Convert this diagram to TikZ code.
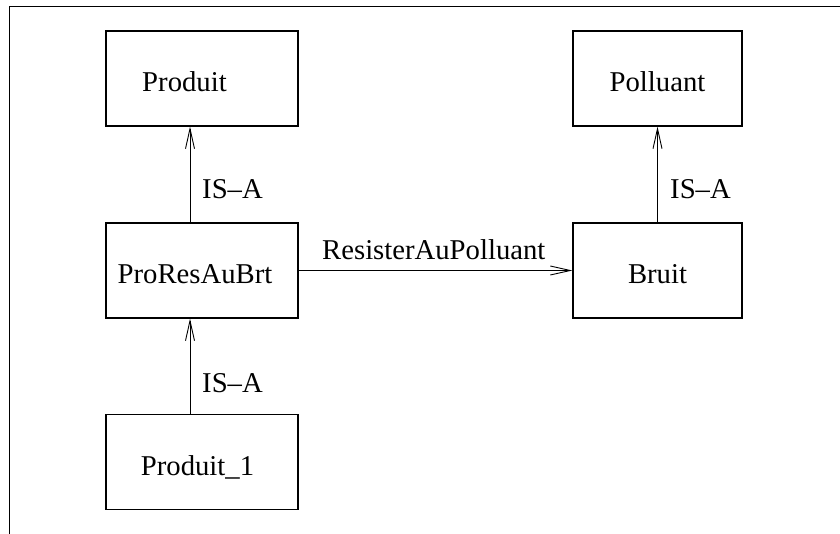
\documentclass[tikz,border=0pt]{standalone}
\usepackage{fontspec}
\setmainfont{Liberation Serif}
\usetikzlibrary{arrows.meta}
\begin{document}
\begin{tikzpicture}[x=1pt,y=-1pt,
  every node/.style={font=\fontsize{28.7}{34}\selectfont},
  classbox/.style={draw, line width=1.3pt, rectangle, minimum width=192pt,
    minimum height=95pt, inner sep=0pt},
  smallbox/.style={classbox, minimum width=169pt},
  boxtext/.style={inner sep=0pt, text height=26pt, text depth=0pt},
  rel/.style={draw, line width=0.9pt,
    -{Straight Barb[length=20pt, width=9pt, line width=0.9pt]}},
  rellabel/.style={anchor=base west, inner sep=0pt}]
  \useasboundingbox (0,0) rectangle (840,534);
  % outer frame (top and left edges)
  \draw[line width=1.5pt] (840,6.5) -- (9.5,6.5) -- (9.5,534);

  % classes
  \node[classbox, label={[boxtext, xshift=-17.5pt]center:Produit}]
    (prod)  at (202,78.5)  {};
  \node[classbox, label={[boxtext, xshift=-7pt]center:ProResAuBrt}]
    (pra)   at (202,270.5) {};
  \node[classbox, label={[boxtext, xshift=-4.5pt]center:Produit\_1}]
    (prod1) at (202,462)   {};
  \node[smallbox, label={[boxtext]center:Polluant}]
    (poll)  at (657.5,78.5)  {};
  \node[smallbox, label={[boxtext]center:Bruit}]
    (bruit) at (657.5,270.5) {};

  % relations
  \draw[rel] ([xshift=-12pt]pra.north) -- ([xshift=-12pt]prod.south);
  \draw[rel] ([xshift=-12pt]prod1.north) -- ([xshift=-12pt]pra.south);
  \draw[rel] (bruit.north) -- (poll.south);
  \draw[rel] (pra.east) -- (bruit.west);

  % relation labels
  \node[rellabel] (l1) at (202,199) {IS\textendash A};
  \node[rellabel] (l2) at (202,392) {IS\textendash A};
  \node[rellabel] (l3) at (670,199) {IS\textendash A};
  \node[rellabel] (l4) at (322,260) {ResisterAuPolluant};
\end{tikzpicture}
\end{document}
